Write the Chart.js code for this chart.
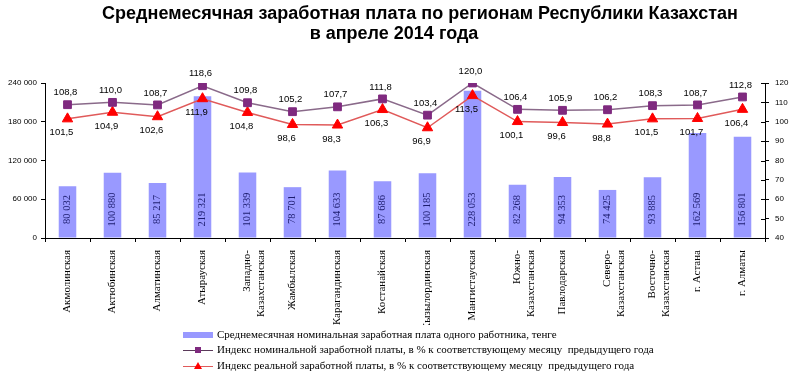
<!DOCTYPE html>
<html>
<head>
<meta charset="utf-8">
<script src="https://cdn.jsdelivr.net/npm/chart.js@4"></script>
<style>
  html, body { margin: 0; padding: 0; background: #fff; }
</style>
</head>
<body>
<canvas id="myChart" width="800" height="378"></canvas>
<script>
var regiony = [
  "Акмолинская", "Актюбинская", "Алматинская", "Атырауская",
  ["Западно-", "Казахстанская"], "Жамбылская", "Карагандинская", "Костанайская",
  "Кызылординская", "Мангистауская", ["Южно-", "Казахстанская"], "Павлодарская",
  ["Северо-", "Казахстанская"], ["Восточно-", "Казахстанская"], "г. Астана", "г. Алматы"
];
var zarplata = [80032, 100880, 85217, 219321, 101339, 78701, 104633, 87686,
  100185, 228053, 82268, 94353, 74425, 93885, 162569, 156801];
var indeksNom = [108.8, 110.0, 108.7, 118.6, 109.8, 105.2, 107.7, 111.8,
  103.4, 120.0, 106.4, 105.9, 106.2, 108.3, 108.7, 112.8];
var indeksReal = [101.5, 104.9, 102.6, 111.9, 104.8, 98.6, 98.3, 106.3,
  96.9, 113.5, 100.1, 99.6, 98.8, 101.5, 101.7, 106.4];

var nazvanie = ["Среднемесячная заработная плата по регионам Республики Казахстан", "в апреле 2014 года"];
var legenda = [
  "Среднемесячная номинальная заработная плата одного работника, тенге",
  "Индекс номинальной заработной платы, в % к соответствующему месяцу  предыдущего года",
  "Индекс реальной заработной платы, в % к соответствующему месяцу  предыдущего года"
];

function probel(v) {
  return String(v).replace(/\B(?=(\d{3})+(?!\d))/g, " ");
}
function zapyataya(v) {
  return v.toFixed(1).replace(".", ",");
}

// подписи, заголовок и легенда
const podpisi = {
  id: "podpisi",
  afterDatasetsDraw(chart) {
    const ctx = chart.ctx;
    ctx.save();

    // значения на столбцах
    const bars = chart.getDatasetMeta(0).data;
    ctx.fillStyle = "#1c1c6e";
    ctx.font = '10.5px "Liberation Serif"';
    ctx.textAlign = "center";
    ctx.textBaseline = "middle";
    bars.forEach(function (b, i) {
      ctx.save();
      ctx.translate(b.x, b.base - 28);
      ctx.rotate(-Math.PI / 2);
      ctx.fillText(probel(zarplata[i]), 0, 0);
      ctx.restore();
    });

    ctx.fillStyle = "#000";
    ctx.font = '9.5px "Liberation Sans"';
    chart.getDatasetMeta(1).data.forEach(function (p, i) {
      ctx.fillText(zapyataya(indeksNom[i]), p.x - 2, p.y - 12);
    });
    chart.getDatasetMeta(2).data.forEach(function (p, i) {
      ctx.fillText(zapyataya(indeksReal[i]), p.x - 6, p.y + 14);
    });

    // засечки правой оси внутрь
    const y1 = chart.scales.y1;
    ctx.strokeStyle = "#000";
    ctx.lineWidth = 1;
    y1.ticks.forEach(function (t) {
      const yy = Math.round(y1.getPixelForValue(t.value)) + 0.5;
      ctx.beginPath();
      ctx.moveTo(y1.left - 4, yy);
      ctx.lineTo(y1.left, yy);
      ctx.stroke();
    });

    // заголовок
    ctx.font = 'bold 18px "Liberation Sans"';
    ctx.fillStyle = "#000";
    ctx.fillText(nazvanie[0], 420, 14);
    ctx.fillText(nazvanie[1], 394, 34);

    // легенда
    ctx.textAlign = "left";
    ctx.font = '11px "Liberation Serif"';
    ctx.fillStyle = "#9999ff";
    ctx.fillRect(183, 332, 30, 6);
    ctx.fillStyle = "#000";
    ctx.fillText(legenda[0], 217, 335);

    ctx.strokeStyle = "#5a3a5a";
    ctx.beginPath();
    ctx.moveTo(183, 350.5);
    ctx.lineTo(213, 350.5);
    ctx.stroke();
    ctx.fillStyle = "#7f2a7f";
    ctx.fillRect(195, 347, 6, 6);
    ctx.fillStyle = "#000";
    ctx.fillText(legenda[1], 217, 350);

    ctx.strokeStyle = "#e05a5a";
    ctx.beginPath();
    ctx.moveTo(183, 366.5);
    ctx.lineTo(213, 366.5);
    ctx.stroke();
    ctx.fillStyle = "#ff0000";
    ctx.beginPath();
    ctx.moveTo(198, 362);
    ctx.lineTo(202, 369);
    ctx.lineTo(194, 369);
    ctx.closePath();
    ctx.fill();
    ctx.fillStyle = "#000";
    ctx.fillText(legenda[2], 217, 366);

    ctx.restore();
  }
};

const ctx = document.getElementById("myChart").getContext("2d");
const myChart = new Chart(ctx, {
  data: {
    labels: regiony,
    datasets: [{
      type: "bar",
      label: legenda[0],
      data: zarplata,
      yAxisID: "y",
      backgroundColor: "#9999ff",
      barPercentage: 0.39,
      categoryPercentage: 1,
      order: 3
    }, {
      type: "line",
      label: legenda[1],
      data: indeksNom,
      yAxisID: "y1",
      borderColor: "#8a6a8a",
      borderWidth: 1.5,
      pointStyle: "rect",
      pointRadius: 5.5,
      pointBackgroundColor: "#7f2a7f",
      pointBorderColor: "#7f2a7f",
      pointBorderWidth: 1,
      order: 1
    }, {
      type: "line",
      label: legenda[2],
      data: indeksReal,
      yAxisID: "y1",
      borderColor: "#e05a5a",
      borderWidth: 1.5,
      pointStyle: "triangle",
      pointRadius: 6,
      pointBackgroundColor: "#ff0000",
      pointBorderColor: "#ff0000",
      pointBorderWidth: 1,
      order: 2
    }]
  },
  options: {
    responsive: false,
    animation: false,
    layout: { padding: { top: 83, bottom: 53, left: 0, right: 0 } },
    plugins: {
      legend: { display: false },
      title: { display: false },
      tooltip: { enabled: false }
    },
    scales: {
      x: {
        grid: { drawOnChartArea: false, offset: true, color: "#000", tickLength: 4 },
        border: { color: "#000" },
        ticks: {
          autoSkip: false,
          maxRotation: 90,
          minRotation: 90,
          padding: 8,
          color: "#000",
          font: { family: "Liberation Serif", size: 11 }
        },
        afterFit: function (s) { s.height = 87; }
      },
      y: {
        position: "left",
        min: 0,
        max: 240000,
        ticks: {
          stepSize: 60000,
          color: "#000",
          padding: 4,
          font: { family: "Liberation Sans", size: 8 },
          callback: function (v) { return probel(v); }
        },
        grid: { drawOnChartArea: false, color: "#000", tickLength: 4 },
        border: { color: "#000" },
        afterFit: function (s) { s.width = 45; }
      },
      y1: {
        position: "right",
        min: 40,
        max: 120,
        ticks: {
          stepSize: 10,
          color: "#000",
          padding: 6,
          font: { family: "Liberation Sans", size: 8 }
        },
        grid: { drawOnChartArea: false, color: "#000", tickLength: 4 },
        border: { color: "#000" },
        afterFit: function (s) { s.width = 35; }
      }
    }
  },
  plugins: [podpisi]
});
</script>
</body>
</html>
